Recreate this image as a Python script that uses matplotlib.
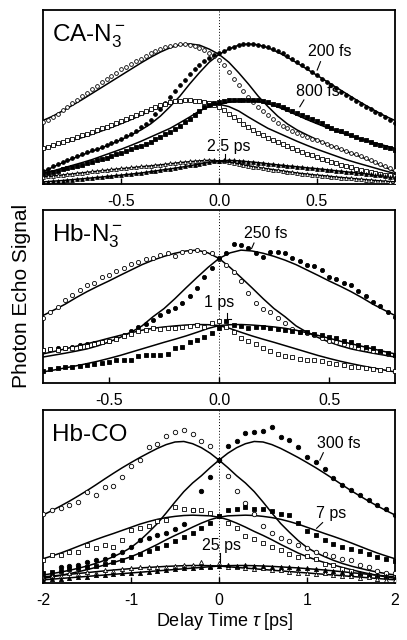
import numpy as np
import matplotlib
matplotlib.use('Agg')
import matplotlib.pyplot as plt

plt.rcParams['font.family'] = ['Liberation Sans', 'DejaVu Sans']
plt.rcParams['mathtext.fontset'] = 'custom'
plt.rcParams['mathtext.rm'] = 'Liberation Sans'
plt.rcParams['mathtext.it'] = 'Liberation Sans:italic'

# ---- CA-N3- panel (delay in ps, signal in % of panel height) ----
# fits peaking at tau > 0; the tau < 0 fits are their mirror images
ca_fit_x = np.linspace(-0.9, 0.9, 37)
ca_fit_200 = [7.0, 9.7, 12.2, 14.5, 16.7, 18.8, 20.8, 23.0, 25.5, 28.2, 31.0, 34.5, 39.0, 44.5, 50.5,
              57.5, 64.0, 70.0, 74.5, 77.5, 79.8, 80.5, 80.0, 78.3, 75.8, 72.8, 69.5, 66.0, 62.5, 59.0,
              55.5, 52.0, 48.5, 45.2, 42.0, 39.0, 36.5]
ca_fit_800 = [6.0, 7.5, 9.1, 10.7, 12.3, 14.0, 16.0, 18.0, 20.0, 22.2, 24.5, 27.0, 29.5, 32.0, 35.2,
              38.5, 42.0, 44.5, 45.8, 47.0, 47.8, 48.0, 47.5, 46.2, 44.3, 42.0, 39.5, 37.0, 34.7, 32.5,
              30.5, 28.5, 26.7, 25.0, 23.5, 22.0, 20.5]
ca_fit_2500 = [1.2, 1.6, 2.0, 2.5, 3.0, 3.5, 4.0, 4.6, 5.1, 5.7, 6.3, 7.1, 7.9, 8.7, 9.5, 10.5, 11.5,
               12.5, 13.3, 13.6, 13.3, 12.8, 12.3, 11.6, 11.0, 10.4, 9.9, 9.3, 8.8, 8.2, 7.6, 7.0, 6.4,
               5.8, 5.2, 4.6, 4.0]

ca_x = np.linspace(-0.9, 0.9, 73)
ca_200_open = [35.5, 37, 38.5, 40.5, 42.5, 44.5, 46.5, 48.5, 50.5, 52.5,
               54.5, 56.5, 58.5, 60.5, 62, 64, 66, 67.5, 69, 70.5,
               72, 73.5, 75, 76.3, 77.5, 78.5, 79.5, 80, 80.3, 80.3,
               80, 79.3, 78.3, 77, 75.5, 73.5, 71, 68.5, 64.5, 60.5,
               57, 53.5, 50, 47, 44.5, 42, 39.7, 37.5, 35, 33.5,
               32, 30.7, 29.5, 28.2, 27, 26, 25, 24, 23, 22,
               21, 20, 19, 18, 17, 16, 15, 13.9, 12.8, 11.6,
               10.3, 9, 7.8]
ca_200_fill = [7.5, 8.8, 10.2, 11.5, 12.7, 13.9, 15, 16.1, 17.2, 18.2,
               19.3, 20.3, 21.3, 22.4, 23.5, 24.8, 26, 27.4, 28.8, 30.5,
               32.5, 34.5, 37, 40, 43, 46.5, 50, 53.5, 57, 60,
               63, 66, 68.5, 70.5, 72.5, 74, 75, 76.5, 78, 79,
               80, 80.5, 80.5, 80.5, 80, 79.5, 78.5, 77.5, 76.5, 75,
               73.5, 72, 70, 68.5, 66.5, 64.5, 62.5, 60.5, 58.5, 57,
               55, 53, 51, 49.5, 47.5, 46, 44.5, 43, 41.5, 40,
               38.5, 36.5, 35]
ca_800_open = [20.5, 21.5, 22.5, 23.5, 24.3, 25.2, 26, 27, 28, 29,
               30, 31, 32, 33, 34, 35, 36, 37.2, 38.4, 39.6,
               40.8, 42, 43.2, 44.3, 45.3, 46.2, 47, 47.5, 47.8, 48,
               48, 47.8, 47.5, 47, 46.5, 45.5, 44.5, 42.5, 40.5, 38.5,
               36.5, 34.5, 32.5, 31, 29.5, 28, 26.5, 25.3, 24, 22.8,
               21.6, 20.5, 19.4, 18.4, 17.4, 16.4, 15.4, 14.5, 13.6, 12.7,
               11.9, 11.1, 10.3, 9.6, 8.9, 8.2, 7.6, 7, 6.4, 5.9,
               5.4, 4.9, 4.5]
ca_800_fill = [5.5, 6.2, 7, 7.7, 8.4, 9.1, 9.8, 10.5, 11.2, 12,
               12.8, 13.6, 14.4, 15.2, 16, 17, 18, 19, 20, 21,
               22, 23.2, 24.4, 25.7, 27, 28.5, 30, 31.7, 33.5, 35.5,
               37.5, 39.8, 42, 44, 45.5, 46.5, 47, 47.5, 48, 48.3,
               48.5, 48.5, 48.5, 48.3, 48, 47.5, 47, 46.2, 45.3, 44.3,
               43.2, 42, 40.8, 39.6, 38.4, 37.2, 36, 34.8, 33.6, 32.4,
               31.3, 30.2, 29.1, 28, 27, 26, 25, 24, 23, 22.2,
               21.4, 20.5, 19.7]
ca_2500_open = [4.2, 4.5, 4.8, 5.1, 5.4, 5.7, 6.0, 6.3, 6.6, 6.9,
                7.2, 7.5, 7.8, 8.1, 8.4, 8.7, 9.0, 9.3, 9.5, 9.8,
                10.1, 10.3, 10.6, 10.9, 11.2, 11.5, 11.8, 12.1, 12.5, 12.8,
                13.0, 13.3, 13.5, 13.7, 13.8, 13.7, 13.4, 13.0, 12.5, 12.0,
                11.5, 11.0, 10.5, 10.0, 9.5, 9.1, 8.7, 8.3, 7.9, 7.5,
                7.1, 6.7, 6.3, 6.0, 5.7, 5.4, 5.1, 4.8, 4.5, 4.3,
                4.0, 3.7, 3.4, 3.2, 2.9, 2.7, 2.4, 2.2, 1.9, 1.7,
                1.5, 1.3, 1.1]
ca_2500_fill = [1.2, 1.4, 1.6, 1.8, 2.0, 2.3, 2.5, 2.8, 3.0, 3.3,
                3.5, 3.8, 4.1, 4.4, 4.7, 5.0, 5.3, 5.6, 5.9, 6.2,
                6.5, 6.9, 7.3, 7.7, 8.1, 8.5, 8.9, 9.3, 9.7, 10.2,
                10.7, 11.2, 11.7, 12.2, 12.7, 13.1, 13.5, 13.8, 13.9, 13.7,
                13.5, 13.2, 12.9, 12.6, 12.3, 12.0, 11.7, 11.4, 11.1, 10.8,
                10.5, 10.2, 9.9, 9.6, 9.4, 9.1, 8.8, 8.5, 8.2, 7.9,
                7.6, 7.3, 7.0, 6.7, 6.4, 6.1, 5.8, 5.5, 5.2, 4.9,
                4.6, 4.3, 4.0]

# ---- Hb-N3- panel ----
hbn_fit_x = np.linspace(-0.8, 0.8, 33)
hbn_fit_250 = [15.0, 16.1, 17.2, 18.4, 19.7, 21.5, 23.7, 26.3, 29.3, 33.0, 38.3, 43.0, 48.8, 55.0, 61.0,
               66.8, 72.0, 75.2, 76.8, 76.3, 75.0, 73.2, 71.0, 68.4, 65.3, 62.2, 59.0, 56.0, 52.8, 49.3,
               45.5, 42.2, 39.0]
hbn_fit_1000 = [6.4, 7.5, 8.7, 9.9, 11.2, 12.6, 14.2, 15.9, 17.8, 19.7, 21.6, 23.5, 25.3, 27.2, 29.3,
                31.5, 33.2, 33.7, 33.8, 33.5, 33.0, 32.4, 31.6, 30.5, 29.0, 27.5, 25.9, 24.2, 22.7, 21.2,
                19.7, 18.2, 16.8]

hbn_x = np.linspace(-0.8, 0.8, 49)
hbn_250_open = [37.5, 41, 44, 48, 51, 53.5, 56.5, 58, 61, 62.5,
                64.5, 66.5, 68.5, 70, 71.5, 72, 74, 75, 73.5, 75.5,
                76.5, 77, 76, 75, 71.5, 68, 64, 59, 52, 46,
                43, 41, 37.5, 34.5, 31, 29.5, 28.7, 27.5, 26, 24.5,
                23.9, 22.5, 21.5, 20, 19.5, 18.5, 18.1, 17, 16.2]
hbn_250_fill = [19, 19.5, 20, 20.5, 21, 22, 22.5, 23, 23.5, 24.5,
                26, 27.5, 30, 32.5, 34, 36.5, 39.5, 41.5, 43.5, 46,
                50, 55, 61, 66.5, 72, 75, 80.5, 80, 78, 75,
                73, 76, 76, 75, 72.5, 70.5, 68, 67.5, 65.5, 61,
                60, 58, 56.5, 53, 50.5, 47, 44.5, 41, 38.3]
hbn_1000_open = [19, 19.5, 19, 20.5, 20, 21, 21.5, 22.5, 23.5, 24,
                 25.5, 27, 28.5, 30, 30.5, 31.5, 31, 31.5, 32, 32.5,
                 33, 33.5, 32.5, 34.5, 36, 32.5, 29.5, 26, 24, 22.5,
                 20, 18.5, 17, 15.5, 15, 14, 13.5, 13, 12.5, 11.5,
                 11, 10.5, 9.5, 9, 8.5, 8, 7.5, 8, 7]
hbn_1000_fill = [7, 8, 8.5, 9, 9.5, 10, 10.5, 11, 11.5, 12,
                 13, 13.5, 13, 15.5, 16, 16, 16, 16.5, 20.5, 21,
                 23.5, 25, 26.5, 29, 32, 36, 33.5, 33, 32, 32.5,
                 32.5, 32, 31, 30.5, 30, 29.5, 29.5, 28.5, 27.5, 26.5,
                 26, 24.5, 23.5, 22, 21, 20, 18.5, 17.5, 16]

# ---- Hb-CO panel ----
hbco_fit_x = np.linspace(-2, 2, 41)
hbco_fit_300 = [4.6, 5.4, 6.3, 7.3, 8.5, 9.8, 11.3, 13.1, 15.2, 17.6, 20.5, 24.5, 29.3, 34.4, 40.5,
                46.8, 52.8, 57.8, 62.0, 66.7, 71.0, 75.0, 78.2, 80.5, 81.8, 81.5, 80.0, 77.8, 75.2, 72.5,
                69.6, 66.6, 63.4, 60.1, 56.7, 53.4, 50.3, 47.3, 44.5, 41.8, 39.3]
hbco_fit_7000 = [2.7, 3.5, 4.4, 5.4, 6.5, 7.7, 9.0, 10.4, 11.8, 13.4, 15.2, 17.3, 19.8, 22.3, 25.0,
                 27.5, 29.8, 32.3, 34.6, 36.6, 38.0, 38.8, 39.0, 39.2, 39.0, 38.5, 37.8, 36.8, 35.5, 34.0,
                 32.2, 30.4, 28.6, 26.9, 25.1, 23.2, 21.2, 19.2, 17.3, 15.6, 14.0]
hbco_fit_25000 = [1.8, 2.2, 2.6, 3.0, 3.4, 3.8, 4.2, 4.6, 5.0, 5.4, 5.8, 6.2, 6.6, 7.0, 7.4, 7.8, 8.2,
                  8.6, 9.0, 9.4, 9.8, 10.0, 10.1, 10.1, 10.0, 9.8, 9.6, 9.3, 9.0, 8.7, 8.3, 7.9, 7.5,
                  7.0, 6.5, 6.0, 5.5, 5.0, 4.5, 4.0, 3.5]

hbco_x = np.linspace(-2, 2, 41)
hbco_300_open = [40, 42, 43.5, 45, 47, 52.5, 51, 55.5, 56, 61.5,
                 67.5, 71, 78.5, 80.5, 85, 87.5, 88.5, 86, 82, 79,
                 71, 62, 53, 46, 40, 33, 29, 26, 24, 22,
                 20, 18, 16.5, 15.5, 14, 13, 10.5, 9, 7, 6, 5.5]
hbco_300_fill = [3, 4, 9, 10, 10.5, 12, 13, 14, 16, 18,
                 21, 25, 26, 27.5, 29, 31, 34, 42, 53, 61.5,
                 71, 79, 82, 86.5, 87.5, 88, 90, 84.5, 82.5, 78.5,
                 73, 70, 66, 60.5, 56.5, 53.5, 51, 48, 45, 43, 39.5]
hbco_7000_open = [13.5, 16, 16, 18, 18, 22, 20, 22, 21, 25,
                  30.5, 31.5, 33, 36, 36.5, 44, 42.5, 42, 42, 40.5,
                  38.5, 34.5, 31.5, 27, 25.5, 23, 21, 19, 17, 15,
                  15.5, 14, 11, 10.5, 8, 7, 5, 4.5, 4, 3.5, 3.5]
hbco_7000_fill = [6, 6.5, 7, 8, 8.5, 9, 10, 11, 12, 13.5,
                  15, 16.5, 18.5, 20.5, 22, 24, 26.5, 29, 31.5, 34.5,
                  38.5, 42, 43, 44, 43, 43, 41.5, 40, 39.5, 34.5,
                  30, 27.5, 25, 22.5, 21, 19.5, 18.5, 16.5, 15, 14, 12.5]
hbco_25000_open = [3, 4, 4, 5.5, 5, 6.5, 6, 7.5, 7, 8,
                   8.5, 9, 9, 9.5, 9.5, 10, 10.5, 10.5, 12, 10,
                   11.5, 9, 9.5, 8.5, 8, 8.5, 7.5, 7.5, 6.5, 6,
                   6, 5, 5.5, 4.5, 4, 4, 3, 3.5, 2.5, 2, 2]
hbco_25000_fill = [1.5, 2.5, 2.5, 3, 3.5, 3.5, 4.5, 4.5, 5, 5.5,
                   6, 6, 6.5, 7, 7.5, 8, 8.5, 8.5, 9, 9.5,
                   10, 10.5, 10, 10.5, 10, 10, 9.5, 9.5, 9, 8.5,
                   8.5, 8, 7.5, 7, 6.5, 6, 5.5, 5, 4.5, 4, 3.5]


def draw_panel(ax, fit_x, fits, x, series, xlim, ticks, ticklabels):
    for f in fits:
        ax.plot(fit_x, f, 'k-', lw=1.1, zorder=2)
        ax.plot(-fit_x, f, 'k-', lw=1.1, zorder=2)
    for y, marker, filled, ms in series:
        ax.plot(x, y, ls='none', marker=marker, ms=ms, mew=0.6, mec='k',
                mfc='k' if filled else 'white', zorder=3)
    ax.axvline(0, color='k', lw=0.7, ls=(0, (1, 2)), zorder=1)
    ax.set_xlim(*xlim)
    ax.set_ylim(0, 100)
    ax.set_yticks([])
    ax.set_xticks(ticks)
    ax.set_xticklabels(ticklabels)
    ax.tick_params(axis='x', direction='in', length=4, width=1, labelsize=11.5, pad=7)
    for s in ax.spines.values():
        s.set_linewidth(1.3)


fig = plt.figure(figsize=(4.07, 6.4), dpi=100)
ax1 = fig.add_axes([0.1057, 0.7125, 0.8649, 0.2719])
ax2 = fig.add_axes([0.1057, 0.4016, 0.8649, 0.2703])
ax3 = fig.add_axes([0.1057, 0.0891, 0.8649, 0.2703])

draw_panel(ax1, ca_fit_x, [ca_fit_200, ca_fit_800, ca_fit_2500], ca_x,
           [(ca_200_open, 'o', False, 2.7), (ca_200_fill, 'o', True, 2.7),
            (ca_800_open, 's', False, 2.4), (ca_800_fill, 's', True, 2.4),
            (ca_2500_open, '^', False, 2.7), (ca_2500_fill, '^', True, 2.7)],
           (-0.9, 0.9), [-0.5, 0, 0.5], ['-0.5', '0.0', '0.5'])
draw_panel(ax2, hbn_fit_x, [hbn_fit_250, hbn_fit_1000], hbn_x,
           [(hbn_250_open, 'o', False, 3.0), (hbn_250_fill, 'o', True, 3.0),
            (hbn_1000_open, 's', False, 2.7), (hbn_1000_fill, 's', True, 2.7)],
           (-0.8, 0.8), [-0.5, 0, 0.5], ['-0.5', '0.0', '0.5'])
draw_panel(ax3, hbco_fit_x, [hbco_fit_300, hbco_fit_7000, hbco_fit_25000], hbco_x,
           [(hbco_300_open, 'o', False, 3.2), (hbco_300_fill, 'o', True, 3.2),
            (hbco_7000_open, 's', False, 2.8), (hbco_7000_fill, 's', True, 2.8),
            (hbco_25000_open, '^', False, 3.0), (hbco_25000_fill, '^', True, 3.0)],
           (-2, 2), [-2, -1, 0, 1, 2], ['-2', '-1', '0', '1', '2'])

# panel names
for ax, name in [(ax1, r'CA-N$_3^-$'), (ax2, r'Hb-N$_3^-$'), (ax3, 'Hb-CO')]:
    ax.text(0.025, 0.82, name, transform=ax.transAxes, fontsize=17.5, va='baseline', ha='left')

# waiting-time labels with short leader lines
ax1.text(0.566, 76, '200 fs', fontsize=11.5, ha='center', va='center')
ax1.plot([0.519, 0.502], [70.3, 65.5], 'k-', lw=0.8)
ax1.text(0.505, 53.4, '800 fs', fontsize=11.5, ha='center', va='center')
ax1.plot([0.434, 0.413], [48.3, 44.4], 'k-', lw=0.8)
ax1.text(0.051, 21.3, '2.5 ps', fontsize=11.5, ha='center', va='center')
ax1.plot([0.031, 0.031], [17.5, 13.5], 'k-', lw=0.8)

ax2.text(0.214, 86.4, '250 fs', fontsize=11.5, ha='center', va='center')
ax2.plot([0.159, 0.148], [80.9, 77.7], 'k-', lw=0.8)
ax2.text(0.0, 46.8, '1 ps', fontsize=11.5, ha='center', va='center')
ax2.plot([0.035, 0.035, 0.055], [40.5, 36.7, 36.7], 'k-', lw=0.8)

ax3.text(1.366, 80.9, '300 fs', fontsize=11.5, ha='center', va='center')
ax3.plot([1.185, 1.146], [75.3, 71.1], 'k-', lw=0.8)
ax3.text(1.27, 39.9, '7 ps', fontsize=11.5, ha='center', va='center')
ax3.plot([1.177, 1.109], [34.9, 31.6], 'k-', lw=0.8)
ax3.text(0.023, 21.4, '25 ps', fontsize=11.5, ha='center', va='center')
ax3.plot([0.011, 0.011], [17.2, 12.3], 'k-', lw=0.8)

fig.text(225 / 407, 1 - 621 / 640, r'Delay Time $\tau$ [ps]', fontsize=13, ha='center', va='center')
fig.text(22 / 407, 1 - 296 / 640, 'Photon Echo Signal', fontsize=15, rotation=90,
         ha='center', va='center')

fig.savefig('out.png', dpi=100)
